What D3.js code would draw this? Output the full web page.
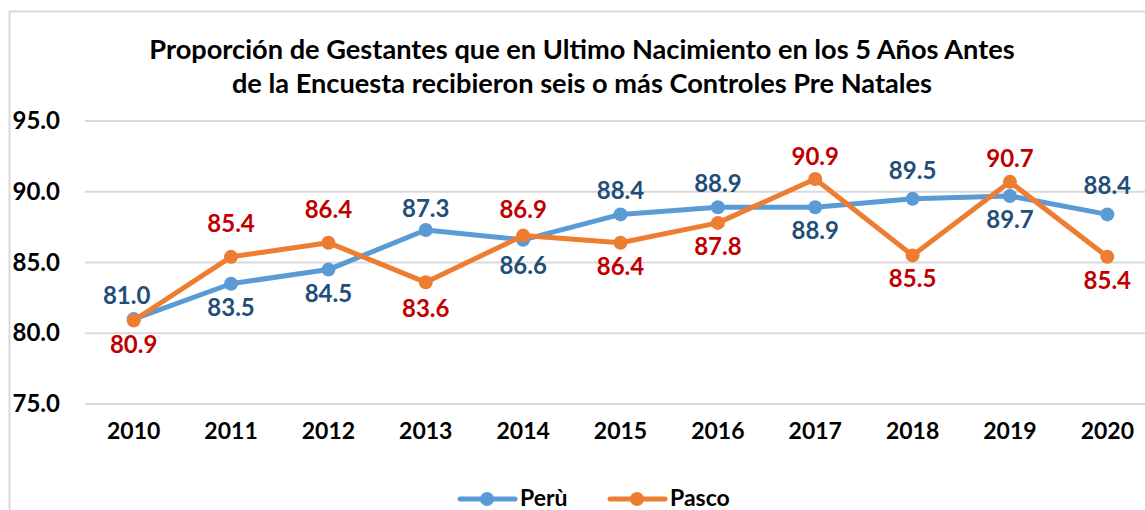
<!DOCTYPE html>
<html lang="es">
<head>
<meta charset="utf-8">
<title>Controles Pre Natales</title>
<style>
  body { margin: 0; background: #fff; overflow: hidden; }
  svg text { font-family: Lato, "Open Sans", sans-serif; font-weight: bold; }
</style>
</head>
<body>
<svg id="chart" width="1145" height="510"></svg>
<script src="https://cdn.jsdelivr.net/npm/d3@7"></script>
<script>
// data
var years = ["2010","2011","2012","2013","2014","2015","2016","2017","2018","2019","2020"];
var peru  = [81.0, 83.5, 84.5, 87.3, 86.6, 88.4, 88.9, 88.9, 89.5, 89.7, 88.4];
var pasco = [80.9, 85.4, 86.4, 83.6, 86.9, 86.4, 87.8, 90.9, 85.5, 90.7, 85.4];
// label above (1) or below (-1) the point
var peruPos  = [1, -1, -1, 1, -1, 1, 1, -1, 1, -1, 1];
var pascoPos = [-1, 1, 1, -1, 1, -1, -1, 1, -1, 1, -1];
// extra px some labels were dragged away from their point in the original
var peruNudge  = [0, 0, 0, -2, 2, 0, 0, 0, 5, 0, 5];
var pascoNudge = [0, 10, 10, 3, 3, 0, 0, -1, 0, 0, 0];
var yTicks = [75, 80, 85, 90, 95];
var titleLines = [
  "Proporción de Gestantes que en Ultimo Nacimiento en los 5 Años Antes",
  "de la Encuesta recibieron seis o más Controles Pre Natales"
];

var svg = d3.select("#chart");

// chart frame (cut off at right and bottom like the original)
svg.append("rect")
  .attr("x", 9.5).attr("y", 11.5)
  .attr("width", 1200).attr("height", 600)
  .attr("fill", "none").attr("stroke", "#d9d9d9").attr("stroke-width", 2);

var x = d3.scaleBand().domain(years).range([85, 1156]);
var y = d3.scaleLinear().domain([75, 95]).range([404, 121]);
var cx = function(d) { return x(d) + x.bandwidth() / 2; };

// title
svg.append("g").selectAll("text")
  .data(titleLines)
  .enter().append("text")
  .attr("x", 582)
  .attr("y", function(d, i) { return 59 + i * 34; })
  .attr("text-anchor", "middle")
  .attr("font-size", 27.2)
  .attr("fill", "#000")
  .text(function(d) { return d; });

// gridlines + y labels
var grid = svg.append("g");
grid.selectAll("line")
  .data(yTicks)
  .enter().append("line")
  .attr("x1", 85).attr("x2", 1156)
  .attr("y1", function(d) { return y(d); })
  .attr("y2", function(d) { return y(d); })
  .attr("stroke", "#d9d9d9").attr("stroke-width", 2);

var yAxis = d3.axisLeft(y).tickValues(yTicks).tickSize(0).tickPadding(0)
  .tickFormat(d3.format(".1f"));
svg.append("g")
  .attr("transform", "translate(60,0)")
  .call(yAxis)
  .call(function(g) { g.select(".domain").remove(); })
  .selectAll("text")
  .attr("font-size", 24).attr("fill", "#000")
  .attr("font-family", "Lato, sans-serif").attr("font-weight", "bold");

var xAxis = d3.axisBottom(x).tickSize(0).tickPadding(0);
svg.append("g")
  .attr("transform", "translate(0,423)")
  .call(xAxis)
  .call(function(g) { g.select(".domain").remove(); })
  .selectAll("text")
  .attr("font-size", 23).attr("fill", "#000")
  .attr("font-family", "Lato, sans-serif").attr("font-weight", "bold");

var series = [
  { name: "Perù",  values: peru,  pos: peruPos,  nudge: peruNudge,  color: "#5b9bd5", labelColor: "#1f4e79" },
  { name: "Pasco", values: pasco, pos: pascoPos, nudge: pascoNudge, color: "#ed7d31", labelColor: "#c00000" }
];

var line = d3.line()
  .x(function(d) { return cx(d.year); })
  .y(function(d) { return y(d.value); });

series.forEach(function(s) {
  var pts = years.map(function(yr, i) {
    return { year: yr, value: s.values[i], pos: s.pos[i], nudge: s.nudge[i] };
  });
  var g = svg.append("g");
  g.append("path")
    .datum(pts)
    .attr("d", line)
    .attr("fill", "none")
    .attr("stroke", s.color)
    .attr("stroke-width", 5)
    .attr("stroke-linejoin", "round");
  g.selectAll("circle")
    .data(pts)
    .enter().append("circle")
    .attr("cx", function(d) { return cx(d.year); })
    .attr("cy", function(d) { return y(d.value); })
    .attr("r", 7)
    .attr("fill", s.color);
  s.pts = pts;
});

// data labels on top of lines
series.forEach(function(s) {
  svg.append("g").selectAll("text")
    .data(s.pts)
    .enter().append("text")
    .attr("x", function(d, i) { return cx(d.year) - (i === 0 && d.pos > 0 ? 7 : 0); })
    .attr("y", function(d) {
      return d.pos > 0 ? y(d.value) - 15 - d.nudge : y(d.value) + 32 + d.nudge;
    })
    .attr("text-anchor", "middle")
    .attr("font-size", 24)
    .attr("fill", s.labelColor)
    .text(function(d) { return d.value.toFixed(1); });
});

// legend
var legend = svg.append("g").selectAll("g")
  .data(series)
  .enter().append("g")
  .attr("transform", function(d, i) { return "translate(" + (460 + i * 150) + ",499)"; });
legend.append("line")
  .attr("x1", 0).attr("x2", 55)
  .attr("stroke", function(d) { return d.color; })
  .attr("stroke-width", 5).attr("stroke-linecap", "round");
legend.append("circle")
  .attr("cx", 27).attr("r", 7)
  .attr("fill", function(d) { return d.color; });
legend.append("text")
  .attr("x", 60).attr("y", 7)
  .attr("font-size", 23)
  .attr("fill", "#000")
  .text(function(d) { return d.name; });
</script>
</body>
</html>
